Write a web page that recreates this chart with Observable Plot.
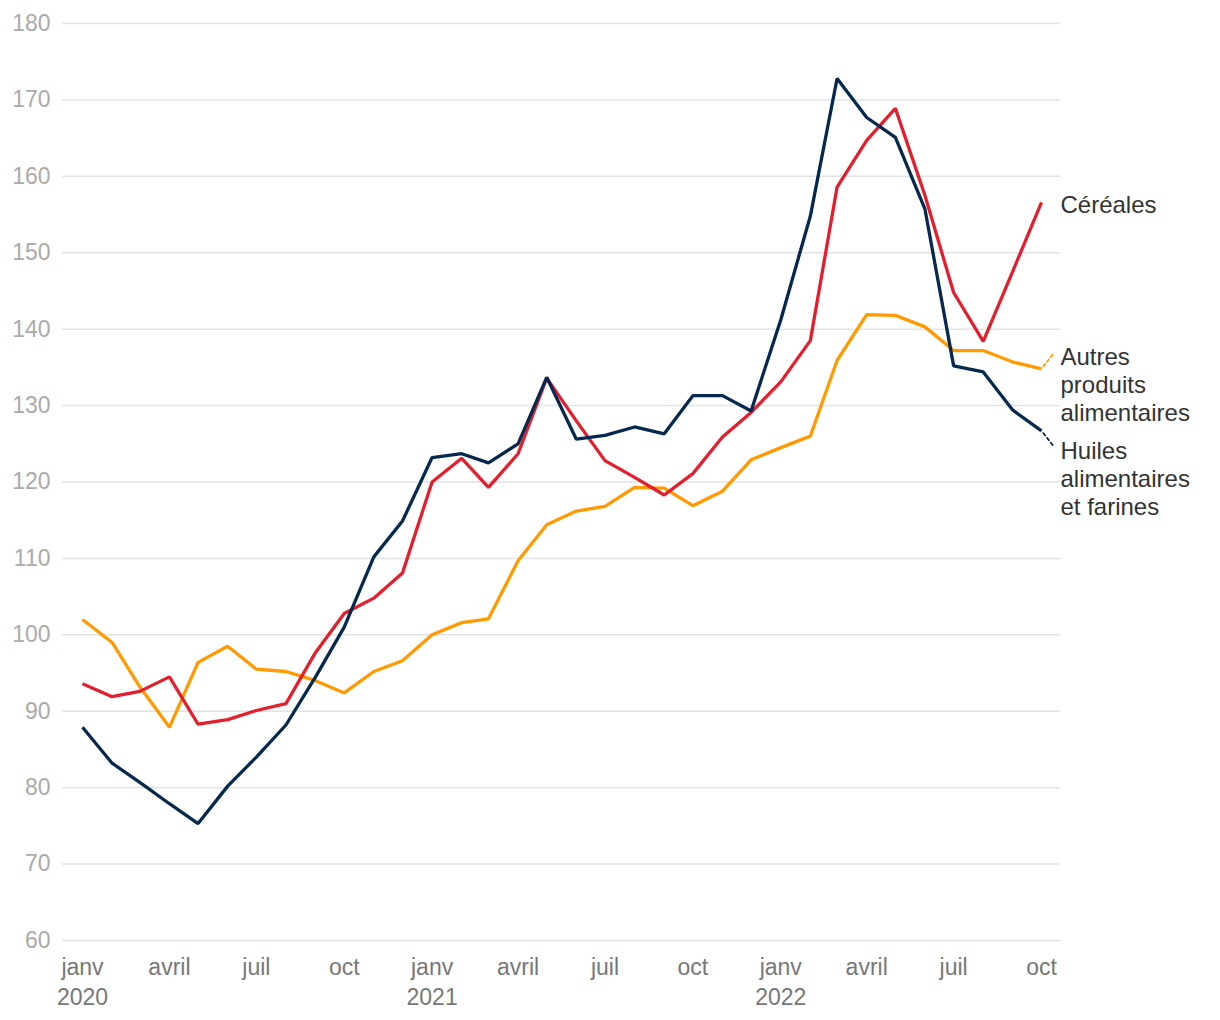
<!DOCTYPE html>
<html><head><meta charset="utf-8">
<script src="https://cdn.jsdelivr.net/npm/d3@7"></script>
<script src="https://cdn.jsdelivr.net/npm/@observablehq/plot@0.6"></script>
<style>
body{margin:0;background:#fff;font-family:"Liberation Sans",Arial,sans-serif}
</style>
</head><body><div id="chart"></div>
<script>
// Data (monthly index, Jan 2020 – Oct 2022)
const firstMonth = "2020-01-01";
const lastMonth = "2022-10-01";
const cereales = [93.6, 91.9, 92.6, 94.5, 88.3, 88.9, 90.1, 91.0, 97.7, 102.8, 104.8, 108.1, 120.0, 123.1, 119.3, 123.7, 133.6, 128.0, 122.8, 120.6, 118.3, 121.1, 125.9, 129.1, 133.1, 138.5, 158.6, 164.7, 168.9, 157.5, 144.8, 138.4, 147.6, 156.6];
const autres = [102.0, 99.0, 93.2, 87.9, 96.4, 98.5, 95.5, 95.2, 94.0, 92.4, 95.2, 96.6, 100.0, 101.6, 102.1, 109.7, 114.4, 116.2, 116.8, 119.3, 119.2, 116.9, 118.8, 122.9, 124.5, 126.0, 135.9, 141.9, 141.8, 140.3, 137.2, 137.2, 135.7, 134.8];
const huiles = [87.9, 83.2, 80.7, 77.9, 75.3, 80.2, 84.0, 88.2, 94.5, 101.0, 110.2, 114.9, 123.2, 123.7, 122.5, 125.0, 133.7, 125.6, 126.1, 127.2, 126.3, 131.3, 131.3, 129.3, 141.2, 154.8, 172.8, 167.7, 165.1, 155.7, 135.2, 134.4, 129.4, 126.7];
const seriesNames = ["Autres produits alimentaires", "Céréales", "Huiles alimentaires et farines"];
const seriesLabels = ["Autres\nproduits\nalimentaires", "Céréales", "Huiles\nalimentaires\net farines"];
const seriesColors = ["#ff9a00", "#e41e2d", "#05284e"];
const monthNames = ["janv", "févr", "mars", "avril", "mai", "juin", "juil", "août", "sept", "oct", "nov", "déc"];
const yTicks = [60, 70, 80, 90, 100, 110, 120, 130, 140, 150, 160, 170, 180];

const months = d3.utcMonth.range(new Date(firstMonth), d3.utcMonth.offset(new Date(lastMonth), 1));
const xTicks = months.filter(d => d.getUTCMonth() % 3 === 0);
const seriesValues = [autres, cereales, huiles];
const table = seriesNames.flatMap((name, i) =>
  seriesValues[i].map((v, j) => ({date: months[j], value: v, series: name})));
const lastPoints = seriesNames.map((name, i) => ({
  date: months[months.length - 1], value: seriesValues[i][seriesValues[i].length - 1],
  series: name, label: seriesLabels[i]
}));

const FONT = '"Liberation Sans", Arial, sans-serif';
const dashShape = {draw(ctx, l) { ctx.moveTo(0, -3); ctx.lineTo(0, -l); }};

const labelDy = {"Céréales": 2, "Autres produits alimentaires": 15, "Huiles alimentaires et farines": 47};

const chart = Plot.plot({
  width: 1220,
  height: 1020,
  marginTop: 23,
  marginBottom: 80,
  marginLeft: 62,
  marginRight: 160,
  insetLeft: 20,
  insetRight: 19,
  style: {fontFamily: FONT, fontSize: "23px", background: "#fff", overflow: "visible"},
  x: {type: "utc", domain: [months[0], months[months.length - 1]], label: null},
  y: {domain: [60, 180], label: null},
  color: {domain: seriesNames, range: seriesColors},
  marks: [
    Plot.gridY(yTicks, {stroke: "#e3e3e3", strokeOpacity: 1, strokeWidth: 1.5}),
    Plot.axisY(yTicks, {tickSize: 0, tickPadding: 12, fill: "#aaaaaa", fontSize: 23, label: null}),
    Plot.axisX(xTicks, {
      tickSize: 0, tickPadding: 13, fill: "#777777", fontSize: 23, label: null, lineHeight: 1.3,
      tickFormat: d => d.getUTCMonth() === 0 ? `${monthNames[0]}\n${d.getUTCFullYear()}` : monthNames[d.getUTCMonth()]
    }),
    Plot.lineY(table, {x: "date", y: "value", z: "series", stroke: "series", strokeWidth: 3.3, strokeLinejoin: "miter", strokeLinecap: "butt"}),
    Plot.vector(lastPoints.filter(d => d.series === "Autres produits alimentaires"), {
      x: "date", y: "value", anchor: "start", length: 20, rotate: 38, shape: dashShape,
      stroke: "series", strokeWidth: 1.8, strokeDasharray: "3 3"
    }),
    Plot.vector(lastPoints.filter(d => d.series === "Huiles alimentaires et farines"), {
      x: "date", y: "value", anchor: "start", length: 20, rotate: 142, shape: dashShape,
      stroke: "series", strokeWidth: 1.8, strokeDasharray: "3 3"
    }),
    ...seriesNames.map(name => Plot.text(lastPoints.filter(d => d.series === name), {
      x: "date", y: "value", text: "label", dx: 19, dy: labelDy[name],
      textAnchor: "start", lineAnchor: "middle", lineHeight: 1.17,
      fill: "#333333", fontSize: 24
    }))
  ]
});
document.getElementById("chart").appendChild(chart);
</script>
</body></html>
